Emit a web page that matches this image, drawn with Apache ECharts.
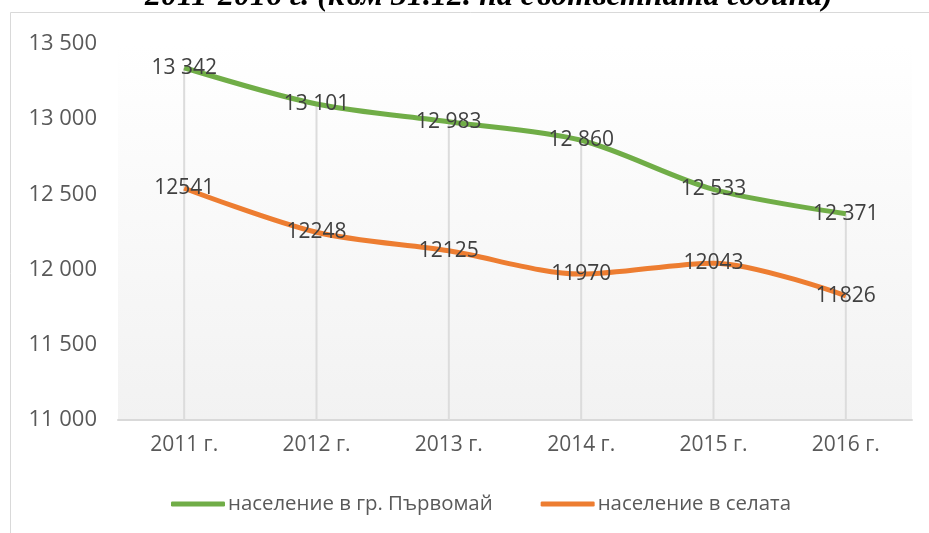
<!DOCTYPE html>
<html><head><meta charset="utf-8">
<script src="https://cdn.jsdelivr.net/npm/echarts@6/dist/echarts.min.js"></script>
<style>html,body{margin:0;padding:0;background:#fff}#c{width:929px;height:533px}</style>
</head><body><div id="c"></div>
<script>
const titleText = '2011-2016 г. (към 31.12. на съответната година)';
const categories = ['2011 г.', '2012 г.', '2013 г.', '2014 г.', '2015 г.', '2016 г.'];
const townName = 'население в гр. Първомай';
const villagesName = 'население в селата';
const townValues = [13342, 13101, 12983, 12860, 12533, 12371];
const villageValues = [12541, 12248, 12125, 11970, 12043, 11826];
const yMin = 11000, yMax = 13500, yStep = 500;

const fmtSpace = v => String(v).replace(/\B(?=(\d{3})+(?!\d))/g, ' ');
const font = 'Open Sans';

const chart = echarts.init(document.getElementById('c'), null, {renderer: 'canvas'});
chart.setOption({
  animation: false,
  backgroundColor: '#fff',
  title: {
    text: titleText, left: 140, top: -24,
    textStyle: {fontFamily: 'Liberation Serif', fontStyle: 'italic', fontWeight: 'bold', fontSize: 32, color: '#000'}
  },
  graphic: [{
    type: 'rect', silent: true, z: -1,
    shape: {x: 10.5, y: 12.5, width: 1000, height: 1000},
    style: {fill: 'none', stroke: '#d9d9d9', lineWidth: 1}
  }],
  grid: {
    left: 118, right: 17, top: 44, bottom: 113,
    show: true, borderWidth: 0,
    backgroundColor: new echarts.graphic.LinearGradient(0, 0, 0, 1, [
      {offset: 0, color: '#ffffff'}, {offset: 1, color: '#f2f2f2'}
    ])
  },
  legend: {
    left: 166, top: 489, itemWidth: 54, itemHeight: 5, itemGap: 48,
    icon: 'roundRect',
    textStyle: {fontFamily: font, fontSize: 20.4, color: '#595959', padding: [0, 0, 0, -2]},
    data: [{name: townName}, {name: villagesName}]
  },
  xAxis: {
    type: 'category', data: categories, boundaryGap: true,
    axisLine: {show: true, lineStyle: {color: '#d9d9d9', width: 2}},
    axisTick: {show: false},
    axisLabel: {fontFamily: font, fontSize: 21, color: '#595959', margin: 15}
  },
  yAxis: {
    type: 'value', min: yMin, max: yMax, interval: yStep,
    axisLine: {show: false}, axisTick: {show: false},
    splitLine: {show: false},
    axisLabel: {fontFamily: font, fontSize: 22, color: '#595959', margin: 21, formatter: v => fmtSpace(v)}
  },
  series: [
    {
      name: 'drop', type: 'bar', data: townValues, barWidth: 2, silent: true, z: 1,
      itemStyle: {color: '#dcdcdc'}, legendHoverLink: false
    },
    {
      name: townName, type: 'line', data: townValues, smooth: 0.3,
      symbol: 'circle', symbolSize: 0, showSymbol: true, z: 3,
      lineStyle: {color: '#70ad47', width: 5}, itemStyle: {color: '#70ad47'},
      label: {show: true, position: 'inside', fontFamily: font, fontSize: 21, color: '#404040', formatter: p => fmtSpace(p.value)}
    },
    {
      name: villagesName, type: 'line', data: villageValues, smooth: 0.3,
      symbol: 'circle', symbolSize: 0, showSymbol: true, z: 3,
      lineStyle: {color: '#ed7d31', width: 5}, itemStyle: {color: '#ed7d31'},
      label: {show: true, position: 'inside', fontFamily: font, fontSize: 21, color: '#404040', formatter: p => String(p.value)}
    }
  ]
});
</script></body></html>
